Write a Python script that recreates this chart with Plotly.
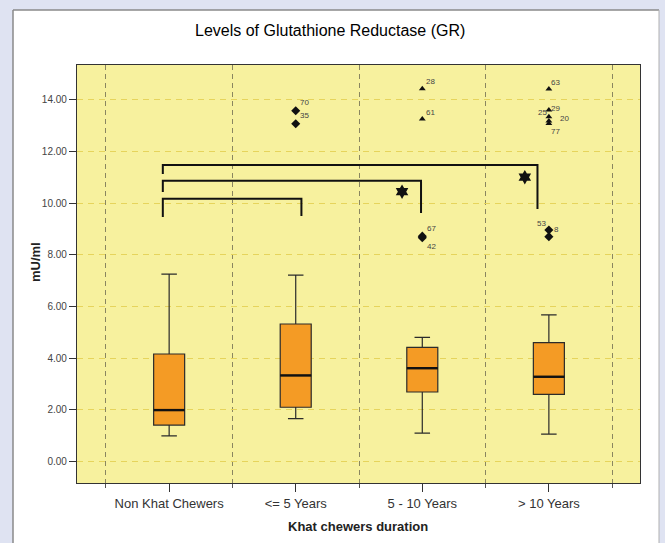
import plotly.graph_objects as go

# ---------------- data ----------------
categories = ["Non Khat Chewers", "<= 5 Years", "5 - 10 Years", "> 10 Years"]
lower_whisker = [0.99, 1.66, 1.10, 1.06]
q1 = [1.41, 2.10, 2.69, 2.60]
median = [1.99, 3.33, 3.61, 3.28]
q3 = [4.16, 5.32, 4.42, 4.60]
upper_whisker = [7.25, 7.21, 4.80, 5.67]

# outliers (diamonds) : group index, value, case id
out_group = [1, 1, 2, 2, 3, 3]
out_value = [13.57, 13.07, 8.72, 8.66, 8.96, 8.70]
out_id = ["70", "35", "67", "42", "8", "53"]

# extreme values (triangles)
ext_group = [2, 2, 3, 3, 3, 3, 3]
ext_value = [14.42, 13.25, 14.41, 13.60, 13.34, 13.17, 13.08]
ext_id = ["28", "61", "63", "29", "25", "20", "77"]

# significance brackets: (left group, right group, top, left-leg bottom, right-leg bottom)
brackets = [
    (-0.05, 2.91, 11.47, 11.12, 9.77),
    (-0.05, 1.99, 10.86, 10.43, 9.61),
    (-0.05, 1.045, 10.17, 9.46, 9.50),
]
star_x = [1.84, 2.81]
star_y = [10.44, 11.00]

yticks = [0, 2, 4, 6, 8, 10, 12, 14]

# ---------------- style / layout helpers ----------------
L, R, T, B = 77, 640, 65, 483
W, H = R - L, B - T


def px(x):
    return (x - L) / W


def py(y):
    return (B - y) / H


FONT = "Liberation Sans, Arial, sans-serif"
BOX_W = 0.245
x_pos = list(range(len(categories)))

fig = go.Figure()

fig.add_trace(go.Box(
    x=x_pos, q1=q1, median=median, q3=q3,
    lowerfence=lower_whisker, upperfence=upper_whisker,
    width=BOX_W, whiskerwidth=0.5,
    fillcolor="#f49b25", line=dict(color="#2b2b2b", width=1.2),
    boxpoints=False, showlegend=False, hoverinfo="skip",
))

# thicker median lines
for i, m in enumerate(median):
    fig.add_trace(go.Scatter(
        x=[x_pos[i] - BOX_W / 2, x_pos[i] + BOX_W / 2], y=[m, m],
        mode="lines", line=dict(color="#111", width=2.4),
        showlegend=False, hoverinfo="skip",
    ))

# brackets
for (xl, xr, yt, ybl, ybr) in brackets:
    fig.add_trace(go.Scatter(
        x=[xl, xl, xr, xr], y=[ybl, yt, yt, ybr],
        mode="lines", line=dict(color="#111", width=2),
        showlegend=False, hoverinfo="skip",
    ))

fig.add_trace(go.Scatter(
    x=star_x, y=star_y, mode="markers",
    marker=dict(symbol="hexagram", size=11, color="#111"),
    showlegend=False, hoverinfo="skip",
))

fig.add_trace(go.Scatter(
    x=out_group, y=out_value, mode="markers",
    marker=dict(symbol="diamond", size=7, color="#111"),
    showlegend=False, hoverinfo="skip",
))
fig.add_trace(go.Scatter(
    x=ext_group, y=ext_value, mode="markers",
    marker=dict(symbol="triangle-up", size=6, color="#111"),
    showlegend=False, hoverinfo="skip",
))

# case-id labels (pixel offsets are style)
out_off = [(9, 8), (9, 8), (9, 8), (9, -9), (8, 0), (-7, 13)]
ext_off = [(8, 7), (8, 7), (7, 7), (7, 1), (-6, 4), (16, 3), (7, -8)]
for g, v, t, (dx, dy) in list(zip(out_group, out_value, out_id, out_off)) + \
        list(zip(ext_group, ext_value, ext_id, ext_off)):
    fig.add_annotation(x=g, y=v, text=t, showarrow=False, xshift=dx, yshift=dy,
                       font=dict(size=8, color="#444", family=FONT))

# outer frame: lavender strips + grey border of white panel
lav = "#dfe3f2"
shapes = [
    dict(type="rect", xref="paper", yref="paper", x0=px(0), x1=px(13), y0=py(543), y1=py(0),
         fillcolor=lav, line=dict(width=0), layer="below"),
    dict(type="rect", xref="paper", yref="paper", x0=px(0), x1=px(665), y0=py(10), y1=py(0),
         fillcolor=lav, line=dict(width=0), layer="below"),
    dict(type="rect", xref="paper", yref="paper", x0=px(659), x1=px(665), y0=py(543), y1=py(0),
         fillcolor=lav, line=dict(width=0), layer="below"),
    dict(type="line", xref="paper", yref="paper", x0=px(13), x1=px(13), y0=py(543), y1=py(10),
         line=dict(color="#8a8a8a", width=1.5)),
    dict(type="line", xref="paper", yref="paper", x0=px(13), x1=px(659), y0=py(10), y1=py(10),
         line=dict(color="#8a8a8a", width=1.5)),
    dict(type="line", xref="paper", yref="paper", x0=px(659), x1=px(659), y0=py(543), y1=py(10),
         line=dict(color="#b0b0b0", width=1)),
]

fig.add_annotation(xref="paper", yref="paper", x=px(330), y=py(30), xanchor="center", yanchor="middle",
                   text="Levels of Glutathione Reductase (GR)",
                   showarrow=False, font=dict(size=16, color="#000", family=FONT))
fig.add_annotation(xref="paper", yref="paper", x=px(358), y=py(526), xanchor="center", yanchor="middle",
                   text="<b>Khat chewers duration</b>",
                   showarrow=False, font=dict(size=13, color="#222", family=FONT))
fig.add_annotation(xref="paper", yref="paper", x=px(35), y=py(262), xanchor="center", yanchor="middle",
                   text="<b>mU/ml</b>", textangle=-90,
                   showarrow=False, font=dict(size=13, color="#222", family=FONT))

fig.update_layout(
    width=665, height=543,
    margin=dict(l=L, r=665 - R, t=T, b=543 - B),
    paper_bgcolor="white", plot_bgcolor="#f7f19e",
    shapes=shapes, showlegend=False,
    font=dict(family=FONT),
)
fig.update_xaxes(
    range=[-0.728, 3.72], tickmode="array", tickvals=x_pos, ticktext=categories,
    ticks="outside", ticklen=8, tickcolor="#333", tickwidth=1.2,
    tickfont=dict(size=13, color="#333"),
    showgrid=False, zeroline=False,
    showline=True, mirror=True, linecolor="#333", linewidth=1.2,
    minor=dict(tickmode="array", tickvals=[-0.5, 0.5, 1.5, 2.5, 3.5], ticks="outside", ticklen=4,
               tickcolor="#555", showgrid=True, gridcolor="#8a8660", griddash="5px,4px", gridwidth=1),
)
fig.update_yaxes(
    range=[-0.83, 15.34], tickmode="array", tickvals=yticks, tickformat=".2f",
    ticks="outside", ticklen=7, tickcolor="#333", tickwidth=1.2,
    tickfont=dict(size=10, color="#444"),
    showgrid=True, gridcolor="#e6d45c", griddash="6px,5px", gridwidth=1,
    zeroline=False, showline=True, mirror=True, linecolor="#333", linewidth=1.2,
)

fig.write_html("out.html")
